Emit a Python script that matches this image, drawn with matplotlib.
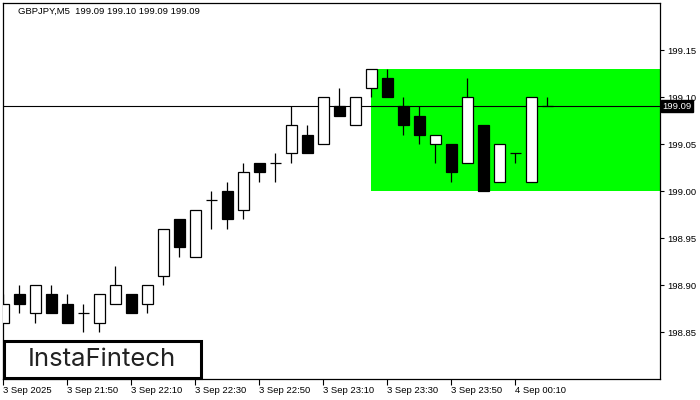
import matplotlib
matplotlib.use("Agg")
import matplotlib.pyplot as plt
from matplotlib.patches import Rectangle
import matplotlib.transforms as mtransforms

symbol = "GBPJPY,M5"
last_ohlc = [199.09, 199.10, 199.09, 199.09]

opens = [198.86, 198.89, 198.87, 198.89, 198.88, 198.87, 198.86, 198.88, 198.89, 198.88,
         198.91, 198.97, 198.93, 198.99, 199.00, 198.98, 199.03, 199.03, 199.04, 199.06,
         199.05, 199.09, 199.07, 199.11, 199.12, 199.09, 199.08, 199.05, 199.05, 199.03,
         199.07, 199.01, 199.04, 199.01, 199.09]
highs = [198.89, 198.90, 198.90, 198.90, 198.89, 198.88, 198.89, 198.92, 198.89, 198.90,
         198.96, 198.97, 198.98, 199.00, 199.01, 199.03, 199.03, 199.04, 199.09, 199.07,
         199.10, 199.11, 199.10, 199.13, 199.13, 199.10, 199.09, 199.06, 199.05, 199.12,
         199.07, 199.05, 199.04, 199.10, 199.10]
lows = [198.86, 198.87, 198.86, 198.87, 198.86, 198.85, 198.85, 198.88, 198.87, 198.87,
        198.90, 198.93, 198.93, 198.96, 198.96, 198.97, 199.01, 199.01, 199.03, 199.04,
        199.05, 199.08, 199.07, 199.10, 199.10, 199.06, 199.05, 199.03, 199.01, 199.03,
        199.00, 199.01, 199.03, 199.01, 199.09]
closes = [198.88, 198.88, 198.90, 198.87, 198.86, 198.87, 198.89, 198.90, 198.87, 198.90,
          198.96, 198.94, 198.98, 198.99, 198.97, 199.02, 199.02, 199.03, 199.07, 199.04,
          199.10, 199.08, 199.10, 199.13, 199.10, 199.07, 199.06, 199.06, 199.02, 199.10,
          199.00, 199.05, 199.04, 199.10, 199.09]

tick_idx = [0, 4, 8, 12, 16, 20, 24, 28, 32]
tick_labels = ["3 Sep 2025", "3 Sep 21:50", "3 Sep 22:10", "3 Sep 22:30", "3 Sep 22:50",
               "3 Sep 23:10", "3 Sep 23:30", "3 Sep 23:50", "4 Sep 00:10"]
price_ticks = [198.85, 198.90, 198.95, 199.00, 199.05, 199.10, 199.15]

zone_start = 23
zone_low = 199.00
zone_high = 199.13
current_price = 199.09

plt.rcParams["font.family"] = ["Liberation Sans", "DejaVu Sans"]

W, H = 700, 400
fig = plt.figure(figsize=(7, 4), dpi=100)
ax = fig.add_axes([2.7 / W, 1 - 379 / H, 657.3 / W, 376 / H])
ax.set_xlim(-0.04, 41.04)
ax.set_ylim(198.80, 199.20)

fs = 6.8
ax.fill_between([zone_start, 42], zone_low, zone_high, color="#00ff00", lw=0, zorder=1)
ax.axhline(current_price, color="black", lw=0.8, zorder=2)

bw = 0.66
xs = list(range(len(opens)))
ax.vlines(xs, lows, highs, color="black", lw=0.9, zorder=3)
for i in xs:
    o, c = opens[i], closes[i]
    if o == c:
        ax.hlines(o, i - bw / 2, i + bw / 2, color="black", lw=0.9, zorder=4)
        continue
    fc = "white" if c > o else "black"
    ax.add_patch(Rectangle((i - bw / 2, min(o, c)), bw, abs(c - o),
                           facecolor=fc, edgecolor="black", lw=0.9, zorder=4))

for s in ax.spines.values():
    s.set_linewidth(0.9)
    s.set_color("black")

ax.yaxis.tick_right()
ax.set_yticks(price_ticks)
ax.set_yticklabels([f"{p:.2f}" for p in price_ticks])
ax.tick_params(axis="y", length=3, width=0.8, pad=2, labelsize=fs)
ax.set_xticks(tick_idx)
ax.set_xticklabels(tick_labels, ha="left")
ax.tick_params(axis="x", length=4, width=0.8, pad=1, labelsize=fs)

trans = mtransforms.blended_transform_factory(ax.transAxes, ax.transData)
ax.text(1.003, current_price, f"{current_price:.2f}", transform=trans, ha="left", va="center",
        color="white", fontsize=fs, clip_on=False, zorder=10,
        bbox=dict(facecolor="black", edgecolor="black", pad=1.0))

fig.text(18 / W, 1 - 11 / H, symbol + "  " + " ".join(f"{v:.2f}" for v in last_ohlc),
         fontsize=fs, va="center", ha="left")

fig.add_artist(Rectangle((3.5 / W, 1 - 378 / H), 197 / W, 37.5 / H, transform=fig.transFigure,
                         facecolor="white", edgecolor="black", lw=2.2, zorder=20))
fig.text(102 / W, 1 - 359.5 / H, "InstaFintech", fontsize=18.5, family=["Inter", "DejaVu Sans"],
         weight="normal", color="#222222", ha="center", va="center", zorder=21)

fig.savefig("out.png", dpi=100)
